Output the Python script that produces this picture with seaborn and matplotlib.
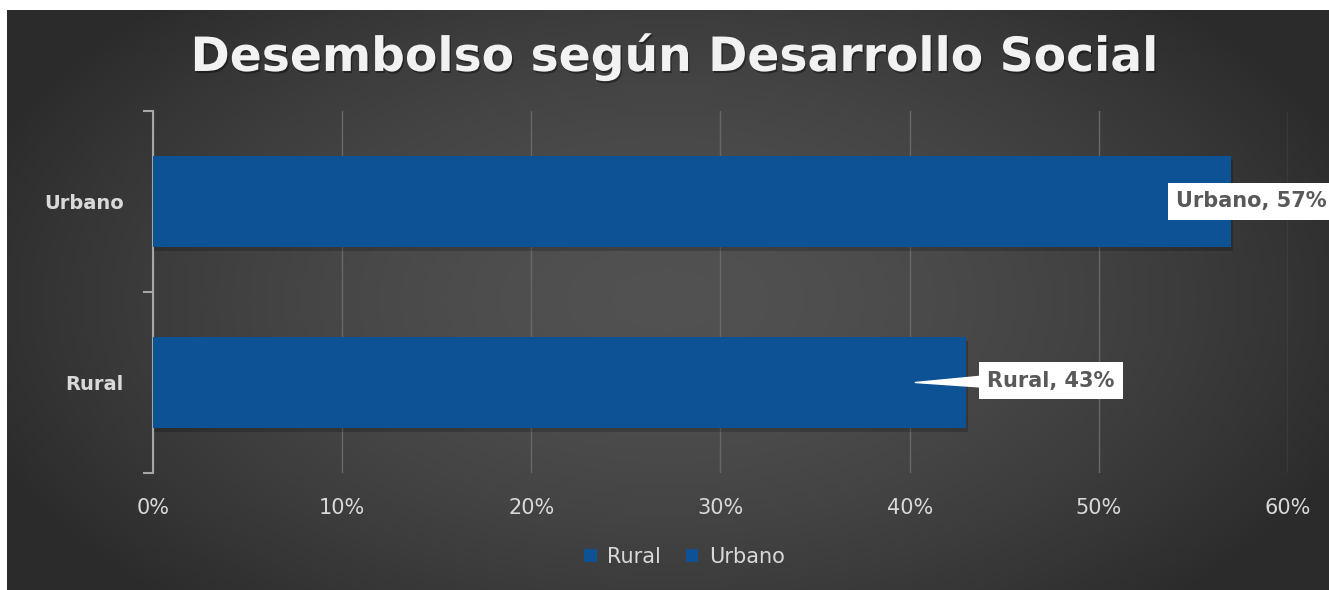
import numpy as np
import pandas as pd
import matplotlib
matplotlib.use('Agg')
import matplotlib.pyplot as plt
import matplotlib.patheffects as pe
from matplotlib.ticker import PercentFormatter
from matplotlib.patches import Patch
import seaborn as sns

# data
categories = ['Urbano', 'Rural']
shares = [0.57, 0.43]
legend_order = ['Rural', 'Urbano']
x_ticks = [0.0, 0.1, 0.2, 0.3, 0.4, 0.5, 0.6]

bar_color = '#0d5294'
text_light = '#d9d9d9'
label_text = '#595959'

df = pd.DataFrame({'categoria': categories, 'valor': shares})

sns.set_theme(style='dark')
plt.rcParams['font.family'] = ['DejaVu Sans']

fig = plt.figure(figsize=(13.29, 5.90), dpi=100)
fig.patch.set_facecolor('white')

# dark background with a soft radial gradient
bg = fig.add_axes([7 / 1329, 0, 1 - 7 / 1329, 580 / 590])
gx, gy = np.meshgrid(np.linspace(-1, 1, 400), np.linspace(-1, 1, 200))
r = np.clip(np.sqrt((gx * 0.9) ** 2 + (gy * 0.7) ** 2), 0, 1)
shade = 0.32 - 0.15 * r ** 1.6
bg.imshow(np.dstack([shade, shade, shade]), aspect='auto', extent=[0, 1, 0, 1])
bg.set_axis_off()

ax = fig.add_axes([153 / 1329, 1 - 473 / 590, (1288 - 153) / 1329, (473 - 111) / 590])
ax.set_facecolor('none')

sns.barplot(data=df, x='valor', y='categoria', hue='categoria', order=categories,
            hue_order=legend_order, palette=[bar_color, bar_color], saturation=1,
            width=0.5, linewidth=0, legend=False, ax=ax, zorder=3)

for bar in ax.patches:
    bar.set_edgecolor('none')
    bar.set_path_effects([pe.SimplePatchShadow(offset=(1, -3), shadow_rgbFace='black', alpha=0.2),
                          pe.Normal()])

ax.set_xlim(0, 0.6)
ax.set_ylim(1.5, -0.5)
ax.set_xticks(x_ticks)
ax.xaxis.set_major_formatter(PercentFormatter(1.0, decimals=0))
ax.grid(axis='x', color='#686868', linewidth=1, zorder=0)
ax.grid(axis='y', visible=False)
ax.set_xlabel('')
ax.set_ylabel('')

for s in ['top', 'right', 'bottom']:
    ax.spines[s].set_visible(False)
ax.spines['left'].set_color('#a6a6a6')
ax.spines['left'].set_linewidth(1.5)

ax.tick_params(axis='x', length=0, pad=18, labelsize=15, labelcolor=text_light)
ax.tick_params(axis='y', which='major', length=0, pad=21, labelsize=14, labelcolor=text_light)
for lab in ax.get_yticklabels():
    lab.set_fontweight('bold')
ax.set_yticks([-0.5, 0.5, 1.5], minor=True)
ax.tick_params(axis='y', which='minor', length=7, width=1.5, color='#a6a6a6', left=True)

# data labels
box = dict(boxstyle='square,pad=0.4', facecolor='white', edgecolor='none')
ax.text(0.541, 0, f'{categories[0]}, {shares[0]:.0%}', ha='left', va='center', fontsize=15,
        fontweight='bold', color=label_text, bbox=box, zorder=5, clip_on=False)
ax.annotate(f'{categories[1]}, {shares[1]:.0%}', xy=(0.403, 1.0), xytext=(0.441, 0.99),
            ha='left', va='center', fontsize=15, fontweight='bold', color=label_text,
            bbox=box, zorder=5,
            arrowprops=dict(arrowstyle='wedge,tail_width=0.5', color='white', shrinkA=0, shrinkB=0))

# title
fig.text(0.508, 0.903, 'Desembolso según Desarrollo Social', ha='center', va='center',
         fontsize=34, fontweight='bold', color='#f2f2f2',
         path_effects=[pe.withSimplePatchShadow(offset=(1, -1.5), shadow_rgbFace='black', alpha=0.4)])

# legend
handles = [Patch(facecolor=bar_color, edgecolor='none', label=c) for c in legend_order]
fig.legend(handles=handles, loc='center', bbox_to_anchor=(0.515, 0.056), ncol=2, frameon=False,
           fontsize=15, labelcolor=text_light, handlelength=0.6, handleheight=0.6,
           handletextpad=0.5, columnspacing=1.2)

fig.savefig('out.png', dpi=100, facecolor=fig.get_facecolor())
